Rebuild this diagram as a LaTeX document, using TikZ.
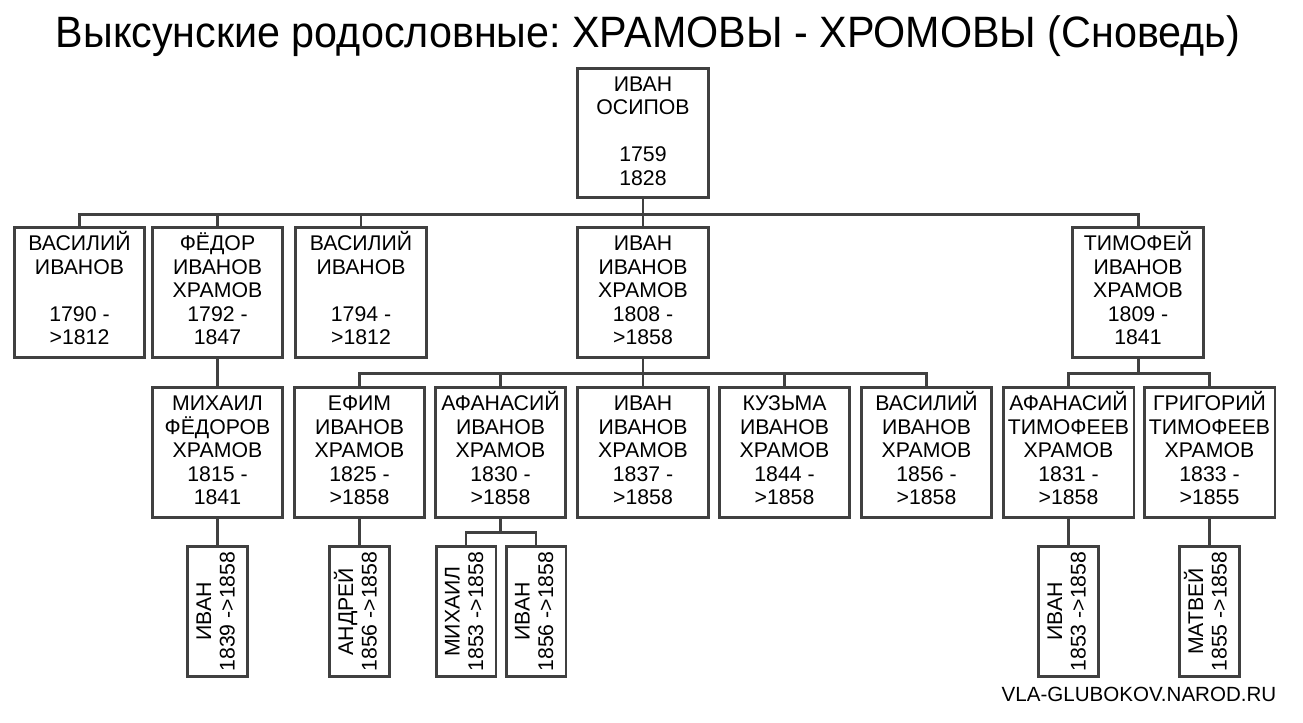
\documentclass[tikz,border=0pt]{standalone}
\usepackage{fontspec}
\setmainfont{Liberation Sans}
\newfontfamily\titlefont[FakeStretch=0.94]{Liberation Sans}
\definecolor{linegray}{rgb}{0.25,0.25,0.25}
\tikzset{
    person/.style={draw=linegray, line width=1.7pt, fill=white, inner sep=0pt,
        minimum width=2.62cm, minimum height=2.6cm, align=center,
        font=\fontsize{12.1}{13.4}\selectfont,
        text height=63.1pt, text depth=3.5pt},
    kidbox/.style={person, rotate=90, minimum width=2.62cm, minimum height=1.2cm,
        text height=22.9pt},
    famline/.style={draw=linegray, line width=1.7pt}
}

\begin{document}
\begin{tikzpicture}[x=0.02cm, y=-0.02cm]
    \useasboundingbox (0,0) rectangle (1303,723);

    % title
    \node[font=\frenchspacing] (title) at (648,36) {\titlefont\fontsize{25}{30}\selectfont Выксунские родословные: ХРАМОВЫ - ХРОМОВЫ (Сноведь)};

    % root
    \node[person] (osipov) at (643,133) {ИВАН\\ОСИПОВ\\[13.4pt]1759\\1828};

    % sons
    \node[person] (vasA) at (79.5,292.5) {ВАСИЛИЙ\\ИВАНОВ\\[13.4pt]1790 -\\>1812};
    \node[person] (fedor) at (217.5,292.5) {ФЁДОР\\ИВАНОВ\\ХРАМОВ\\1792 -\\1847};
    \node[person] (vasB) at (361,292.5) {ВАСИЛИЙ\\ИВАНОВ\\[13.4pt]1794 -\\>1812};
    \node[person] (ivan) at (643,292.5) {ИВАН\\ИВАНОВ\\ХРАМОВ\\1808 -\\>1858};
    \node[person] (timofei) at (1138,292.5) {ТИМОФЕЙ\\ИВАНОВ\\ХРАМОВ\\1809 -\\1841};

    % grandsons
    \node[person] (mikhail) at (217.5,452.5) {МИХАИЛ\\ФЁДОРОВ\\ХРАМОВ\\1815 -\\1841};
    \node[person] (efim) at (359.5,452.5) {ЕФИМ\\ИВАНОВ\\ХРАМОВ\\1825 -\\>1858};
    \node[person] (afanI) at (500.5,452.5) {АФАНАСИЙ\\ИВАНОВ\\ХРАМОВ\\1830 -\\>1858};
    \node[person] (ivanB) at (643,452.5) {ИВАН\\ИВАНОВ\\ХРАМОВ\\1837 -\\>1858};
    \node[person] (kuzma) at (784.5,452.5) {КУЗЬМА\\ИВАНОВ\\ХРАМОВ\\1844 -\\>1858};
    \node[person] (vasC) at (926.5,452.5) {ВАСИЛИЙ\\ИВАНОВ\\ХРАМОВ\\1856 -\\>1858};
    \node[person] (afanT) at (1068.5,452.5) {АФАНАСИЙ\\ТИМОФЕЕВ\\ХРАМОВ\\1831 -\\>1858};
    \node[person] (grigory) at (1209.5,452.5) {ГРИГОРИЙ\\ТИМОФЕЕВ\\ХРАМОВ\\1833 -\\>1855};

    % great-grandsons
    \node[kidbox] (ivanC) at (217.5,611.5) {ИВАН\\1839 ->1858};
    \node[kidbox] (andrei) at (359.5,611.5) {АНДРЕЙ\\1856 ->1858};
    \node[kidbox] (mikhB) at (466,611.5) {МИХАИЛ\\1853 ->1858};
    \node[kidbox] (ivanD) at (536,611.5) {ИВАН\\1856 ->1858};
    \node[kidbox] (ivanE) at (1068.5,611.5) {ИВАН\\1853 ->1858};
    \node[kidbox] (matvei) at (1209.5,611.5) {МАТВЕЙ\\1855 ->1858};

    % connectors
    \foreach \c in {vasA,fedor,vasB,ivan,timofei}
    \draw[famline] (osipov.south) -- ++(0,15) -| (\c.north);
    \foreach \c in {efim,afanI,ivanB,kuzma,vasC}
    \draw[famline] (ivan.south) -- ++(0,15) -| (\c.north);
    \foreach \c in {afanT,grigory}
    \draw[famline] (timofei.south) -- ++(0,15) -| (\c.north);
    \draw[famline] (fedor.south) -- (mikhail.north);
    \draw[famline] (mikhail.south) -- (ivanC.east);
    \draw[famline] (efim.south) -- (andrei.east);
    \foreach \c in {mikhB,ivanD}
    \draw[famline] (afanI.south) -- ++(0,14) -| (\c.east);
    \draw[famline] (afanT.south) -- (ivanE.east);
    \draw[famline] (grigory.south) -- (matvei.east);

    % site mark
    \node (site) at (1139,694) {\fontsize{11.7}{13.7}\selectfont VLA-GLUBOKOV.NAROD.RU};
\end{tikzpicture}
\end{document}
